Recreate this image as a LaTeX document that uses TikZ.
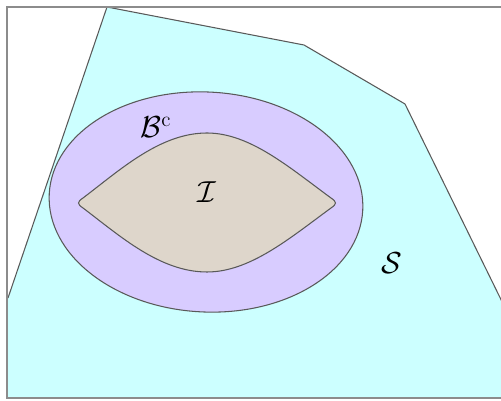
\documentclass[tikz,border=0pt]{standalone}
\usepackage{amsmath}
\usepackage{xcolor}
\usetikzlibrary{math}
\definecolor{mycyan}{RGB}{204, 255, 255}
\definecolor{mylilac}{RGB}{216, 204, 255}
\definecolor{mytan}{RGB}{222, 214, 203}

\begin{document}
\begin{tikzpicture}[x=0.02cm,y=-0.02cm,
  region/.style={draw=black!65,line width=0.6pt},
  setlabel/.style={font=\LARGE}]
\tikzmath{
\cx=206;
\cy=202;
\rx=3.14;
\ry=2.2;
}
\useasboundingbox (0,0) rectangle (501,401);
\clip (0,0) rectangle (501,401);

%%%%%%%%%%   safe set
\fill[mycyan] (107,7) -- (304,45) -- (405,104) -- (512,322) -- (512,398) -- (8,398) -- (8,298) -- cycle;
\draw[region] (8,298) -- (107,7) -- (304,45) -- (405,104) -- (512,322);
\draw[black!45,line width=1.4pt] (7,7) rectangle (520,398);

%%%%%%%%%%   ball complement
\filldraw[region,fill=mylilac,rotate around={-3:(\cx,\cy)}] (\cx,\cy) ellipse [x radius=\rx cm, y radius=\ry cm];

%%%%%%%%%%   inner set
\filldraw[region,fill=mytan] (83,198) .. controls (120,170) and (160,133) .. (207,133)
  .. controls (250,133) and (290,168) .. (331,198)
  .. controls (337,202) and (337,204) .. (331,208)
  .. controls (290,238) and (250,272) .. (207,272)
  .. controls (160,272) and (120,236) .. (83,208)
  .. controls (77,204) and (77,202) .. (83,198) -- cycle;

\node[setlabel] (bc) at (156,127) {$\mathcal{B}^{\mathrm{c}}$};
\node[setlabel] (inner) at (207,192) {$\mathcal{I}$};
\node[setlabel] (safe) at (392,263) {$\mathcal{S}$};
\end{tikzpicture}
\end{document}
